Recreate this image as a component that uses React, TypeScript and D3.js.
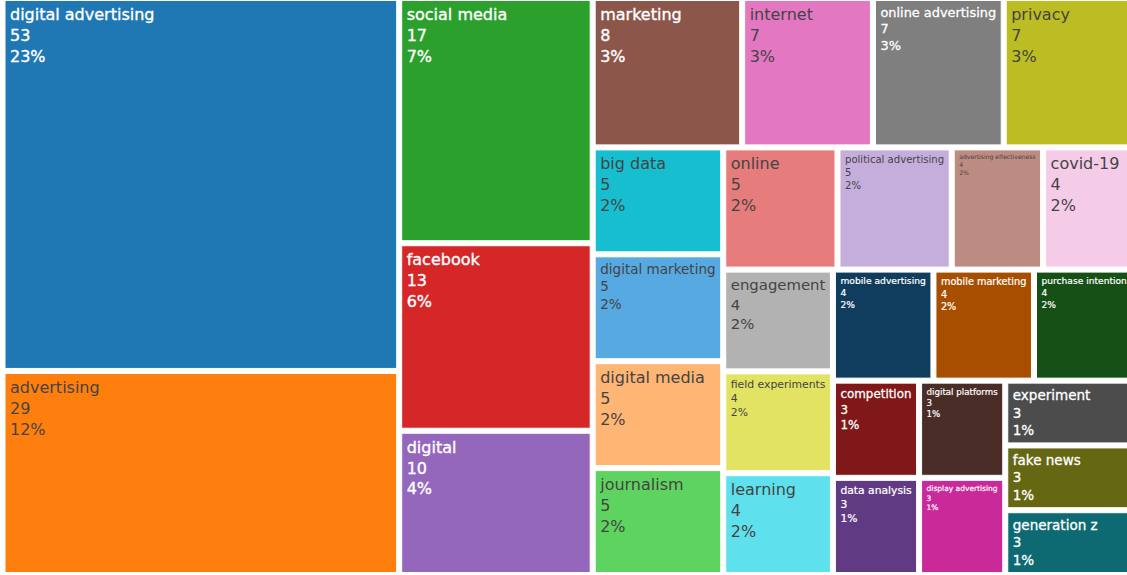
import React, { useRef, useEffect } from "react";
import * as d3 from "d3";

// keyword counts, already in plotly's order (value desc, then name)
const labels = [
  "digital advertising", "advertising", "social media", "facebook", "digital",
  "marketing", "internet", "online advertising", "privacy",
  "big data", "digital marketing", "digital media", "journalism", "online", "political advertising",
  "advertising effectiveness", "covid-19", "engagement", "field experiments", "learning",
  "mobile advertising", "mobile marketing", "purchase intention",
  "competition", "data analysis", "digital platforms", "display advertising",
  "experiment", "fake news", "generation z",
];
const counts = [
  53, 29, 17, 13, 10,
  8, 7, 7, 7,
  5, 5, 5, 5, 5, 5,
  4, 4, 4, 4, 4,
  4, 4, 4,
  3, 3, 3, 3,
  3, 3, 3,
];
const colorway = [
  "#1f77b4", "#ff7f0e", "#2ca02c", "#d62728", "#9467bd",
  "#8c564b", "#e377c2", "#7f7f7f", "#bcbd22", "#17becf",
];

const W = 1127;
const H = 575;
const FONT = "'DejaVu Sans', Verdana, sans-serif";
const FS = 16;
const LH = 20.8;

// plotly extends the colorway: +20 lightness, then -20 lightness
function extendColors(list: string[]) {
  const out = list.slice();
  list.forEach((c) => {
    const h = d3.hsl(c);
    h.l = Math.min(1, h.l + 0.2);
    out.push(h.formatHex());
  });
  list.forEach((c) => {
    const h = d3.hsl(c);
    h.l = Math.max(0, h.l - 0.2);
    out.push(h.formatHex());
  });
  return out;
}

function isDark(c: string) {
  const r = d3.rgb(c);
  return (r.r * 299 + r.g * 587 + r.b * 114) / 1000 < 128;
}

const App = () => {
  const svgRef = useRef<SVGSVGElement>(null);

  useEffect(() => {
    const svg = d3.select(svgRef.current);
    svg.selectAll("*").remove();

    const colors = extendColors(colorway);
    const total = d3.sum(counts);
    const items = labels.map((l, i) => ({ name: l, value: counts[i], color: colors[i] }));

    const root = d3
      .hierarchy<any>({ name: "root", children: items })
      .sum((d) => d.value || 0)
      .sort((a, b) => (b.value! - a.value!) || d3.ascending(a.data.name, b.data.name));

    d3.treemap<any>()
      .tile(d3.treemapSquarify.ratio(1))
      .size([1128, 573])
      .paddingInner(4)(root);

    const ctx = document.createElement("canvas").getContext("2d")!;
    ctx.font = `${FS}px ${FONT}`;

    const g = svg.append("g").attr("transform", "translate(4.5,0)");

    const cell = g
      .selectAll("g.cell")
      .data(root.leaves() as d3.HierarchyRectangularNode<any>[])
      .join("g")
      .attr("class", "cell");

    cell
      .append("rect")
      .attr("x", (d) => d.x0 + 0.5)
      .attr("y", (d) => d.y0 + 0.5)
      .attr("width", (d) => Math.max(0, d.x1 - d.x0 - 1))
      .attr("height", (d) => Math.max(0, d.y1 - d.y0 - 1))
      .attr("fill", (d) => d.data.color)
      .attr("stroke", "#fff")
      .attr("stroke-width", 1);

    cell.each(function (d) {
      const lines = [d.data.name, String(d.data.value), Math.round((d.data.value / total) * 100) + "%"];
      const tw = d3.max(lines, (s) => ctx.measureText(s).width)!;
      const w = d.x1 - d.x0;
      const h = d.y1 - d.y0;
      const k = Math.min(1, (w - 11) / tw, (h - 8) / (LH * 3));
      const dark = isDark(d.data.color);
      const t = d3
        .select(this)
        .append("text")
        .attr("transform", `translate(${d.x0 + 5.5},${d.y0 + 3}) scale(${k})`)
        .attr("font-family", FONT)
        .attr("font-size", FS)
        .attr("fill", dark ? "#fff" : "#444")
        .attr("stroke", dark ? "#fff" : "none")
        .attr("stroke-width", dark ? 0.35 : 0);
      lines.forEach((s, i) => {
        t.append("tspan").attr("x", 0).attr("y", 17 + i * LH).text(s);
      });
    });
  }, []);

  return (
    <svg
      ref={svgRef}
      width={W}
      height={H}
      style={{ position: "absolute", left: 0, top: 0, display: "block", background: "#fff" }}
    />
  );
};

export default App;
